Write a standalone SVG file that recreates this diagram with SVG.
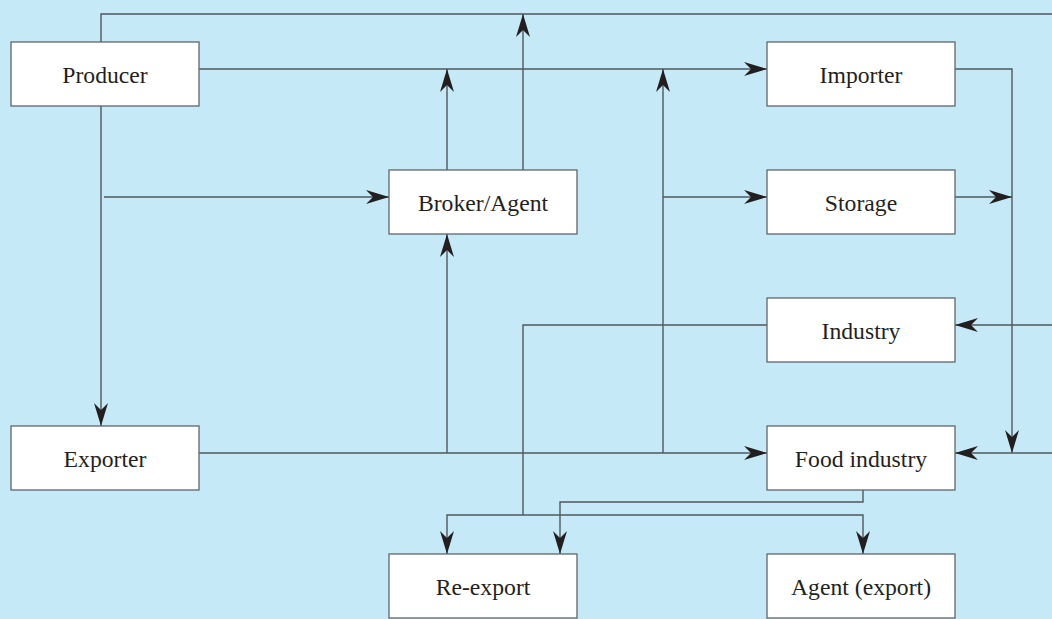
<svg xmlns="http://www.w3.org/2000/svg" width="1052" height="619" viewBox="0 0 1052 619">
<style>
.box{fill:#fff;stroke:#5f666b;stroke-width:1.3}
.lbl{font-family:"Liberation Serif","Times New Roman",serif;font-size:23.7px;fill:#231f20;text-anchor:middle}
.ln{fill:none;stroke:#50585e;stroke-width:1.4}
.ar{fill:none;stroke:#50585e;stroke-width:1.4;marker-end:url(#ah)}
</style>
<defs>
<marker id="ah" markerUnits="userSpaceOnUse" markerWidth="28" markerHeight="18" viewBox="-25 -9 26 18" refX="0" refY="0" orient="auto">
<path d="M0,0 L-23,-7 L-16,0 L-23,7 Z" fill="#231f20"/>
</marker>
</defs>
<rect width="1052" height="619" fill="#c6e9f8"/>
<g id="connectors">
<polyline class="ln" points="101,42 101,14 1052,14"/>
<line class="ar" x1="523" y1="170" x2="523" y2="14"/>
<line class="ar" x1="199" y1="69" x2="767" y2="69"/>
<line class="ar" x1="447" y1="170" x2="447" y2="69"/>
<line class="ar" x1="663" y1="453" x2="663" y2="69"/>
<line class="ar" x1="663" y1="197" x2="767" y2="197"/>
<line class="ar" x1="101" y1="106" x2="101" y2="426"/>
<line class="ar" x1="104" y1="197" x2="389" y2="197"/>
<line class="ar" x1="199" y1="453" x2="767" y2="453"/>
<line class="ar" x1="447" y1="453" x2="447" y2="234"/>
<polyline class="ar" points="955,69 1012,69 1012,453"/>
<line class="ar" x1="955" y1="197" x2="1012" y2="197"/>
<line class="ar" x1="1052" y1="325" x2="955" y2="325"/>
<line class="ar" x1="1052" y1="453" x2="955" y2="453"/>
<polyline class="ln" points="767,325 523,325 523,515"/>
<polyline class="ar" points="523,515 447,515 447,554"/>
<polyline class="ar" points="523,515 863,515 863,554"/>
<polyline class="ar" points="863,490 863,502 560,502 560,554"/>
</g>
<g id="producer"><rect class="box" x="11" y="42" width="188" height="64"/><text class="lbl" x="105" y="83">Producer</text></g>
<g id="importer"><rect class="box" x="767" y="42" width="188" height="64"/><text class="lbl" x="861" y="83">Importer</text></g>
<g id="broker"><rect class="box" x="389" y="170" width="188" height="64"/><text class="lbl" x="483" y="211">Broker/Agent</text></g>
<g id="storage"><rect class="box" x="767" y="170" width="188" height="64"/><text class="lbl" x="861" y="211">Storage</text></g>
<g id="industry"><rect class="box" x="767" y="298" width="188" height="64"/><text class="lbl" x="861" y="339">Industry</text></g>
<g id="exporter"><rect class="box" x="11" y="426" width="188" height="64"/><text class="lbl" x="105" y="467">Exporter</text></g>
<g id="food"><rect class="box" x="767" y="426" width="188" height="64"/><text class="lbl" x="861" y="467">Food industry</text></g>
<g id="reexport"><rect class="box" x="389" y="554" width="188" height="64"/><text class="lbl" x="483" y="595">Re-export</text></g>
<g id="agent"><rect class="box" x="767" y="554" width="188" height="64"/><text class="lbl" x="861" y="595">Agent (export)</text></g>
</svg>
